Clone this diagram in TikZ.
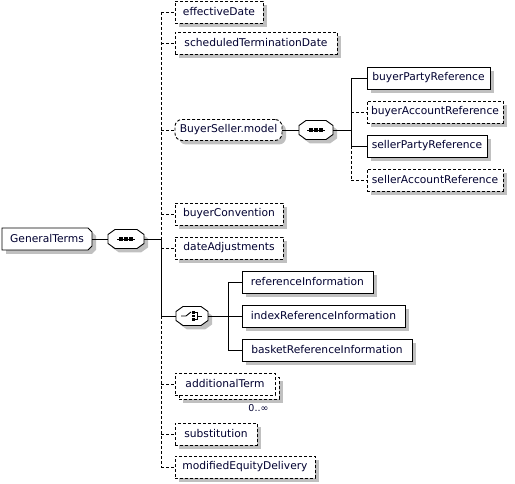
\documentclass[tikz,border=0pt]{standalone}
\usepackage{fontspec}
\setmainfont{DejaVu Sans}
\usetikzlibrary{backgrounds}
\definecolor{txt}{RGB}{0,0,48}
\definecolor{shd}{RGB}{192,192,192}
\begin{document}
\begin{tikzpicture}[x=1pt,y=-1pt,
  every node/.style={font=\fontsize{10.7}{12}\selectfont, text=txt},
  elem/.style={draw, line width=0.9pt, fill=white, minimum height=22pt, inner xsep=4pt, inner ysep=0pt, outer sep=0pt, anchor=west},
  optl/.style={dash pattern=on 3pt off 2pt},
  comp/.style={rectangle, minimum height=19pt, inner sep=0pt, outer sep=0pt, anchor=west},
  conn/.style={line width=0.9pt},
  shadowfill/.style={fill=shd, draw=none},
  outline/.style={draw, line width=0.9pt, fill=white},
]
\useasboundingbox (0,0) rectangle (515,484);

% root
\node[comp, minimum height=22pt, minimum width=90pt] (gt) at (2,239) {GeneralTerms};
\node[comp, minimum width=36pt] (s1) at (108,239) {};
\coordinate (t1) at (161,239);

% children of GeneralTerms
\node[elem, optl, minimum width=88pt] (ed) at (175,12) {effectiveDate};
\node[elem, optl, minimum width=162pt] (sd) at (175,43) {scheduledTerminationDate};
\node[elem, optl, rounded corners=7pt, minimum width=107pt, minimum height=21pt] (bs) at (175,130) {BuyerSeller.model};
\node[elem, optl, minimum width=108pt] (bc) at (175,214) {buyerConvention};
\node[elem, optl, minimum width=108pt] (da) at (175,248) {dateAdjustments};
\node[comp, minimum width=32pt] (ch) at (176,316) {};
\node[elem, optl, minimum width=100pt] (atb) at (179,388) {};
\node[elem, optl, minimum width=100pt] (at) at (175,384) {additionalTerm};
\node[anchor=north east, font=\fontsize{9.5}{11}\selectfont] (mult) at ([xshift=-7pt,yshift=-2pt]atb.south east) {0..∞};
\node[elem, optl, minimum width=82pt] (su) at (175,434) {substitution};
\node[elem, optl, minimum width=140pt] (me) at (175,467) {modifiedEquityDelivery};

% BuyerSeller.model sequence
\node[comp, minimum width=34pt] (s2) at (299,130) {};
\coordinate (t2) at (351,130);
\node[elem, minimum width=123pt] (bp) at (367,78) {buyerPartyReference};
\node[elem, optl, minimum width=136pt] (ba) at (367,112) {buyerAccountReference};
\node[elem, minimum width=120pt] (sp) at (367,146) {sellerPartyReference};
\node[elem, optl, minimum width=136pt] (sa) at (367,180) {sellerAccountReference};

% choice
\coordinate (t3) at (228,316);
\node[elem, minimum width=131pt] (ri) at (242,282) {referenceInformation};
\node[elem, minimum width=163pt] (ii) at (242,316) {indexReferenceInformation};
\node[elem, minimum width=170pt] (bi) at (242,350) {basketReferenceInformation};

% shadows and outlines of root and compositors
\begin{scope}[on background layer]
  \foreach \n in {ed,sd,bc,da,atb,su,me,bp,ba,sp,sa,ri,ii,bi}
    \fill[shadowfill] ([shift={(4pt,-4pt)}]\n.south west) rectangle ([shift={(4pt,-4pt)}]\n.north east);
  \fill[shadowfill, rounded corners=7pt] ([shift={(4pt,-4pt)}]bs.south west) rectangle ([shift={(4pt,-4pt)}]bs.north east);
  \fill[shadowfill] ([shift={(4pt,-4pt)}]gt.north west) -- ([shift={(0pt,-4pt)}]gt.north east) -- ([shift={(4pt,-8pt)}]gt.north east)
     -- ([shift={(4pt,0pt)}]gt.south east) -- ([shift={(0pt,-4pt)}]gt.south east) -- ([shift={(4pt,-4pt)}]gt.south west) -- cycle;
  \foreach \s in {s1,s2,ch}
    \fill[shadowfill] ([shift={(11pt,-4pt)}]\s.north west) -- ([shift={(-3pt,-4pt)}]\s.north east) -- ([shift={(4pt,-9pt)}]\s.north east)
      -- ([shift={(4pt,1pt)}]\s.south east) -- ([shift={(-3pt,-4pt)}]\s.south east) -- ([shift={(11pt,-4pt)}]\s.south west)
      -- ([shift={(4pt,1pt)}]\s.south west) -- ([shift={(4pt,-9pt)}]\s.north west) -- cycle;
  \draw[outline] (gt.north west) -- ([xshift=-4pt]gt.north east) -- ([yshift=-4pt]gt.north east)
     -- ([yshift=4pt]gt.south east) -- ([xshift=-4pt]gt.south east) -- (gt.south west) -- cycle;
  \foreach \s in {s1,s2,ch}
    \draw[outline] ([xshift=7pt]\s.north west) -- ([xshift=-7pt]\s.north east) -- ([yshift=-5pt]\s.north east)
      -- ([yshift=5pt]\s.south east) -- ([xshift=-7pt]\s.south east) -- ([xshift=7pt]\s.south west)
      -- ([yshift=5pt]\s.south west) -- ([yshift=-5pt]\s.north west) -- cycle;
\end{scope}

% sequence symbols
\foreach \s in {s1,s2}{
  \draw[line width=0.9pt] ([xshift=-9pt]\s.center) -- ([xshift=9pt]\s.center);
  \foreach \dx in {-5,0,5}
    \fill ([xshift=\dx pt-1.7pt,yshift=-1.7pt]\s.center) rectangle ([xshift=\dx pt+1.7pt,yshift=1.7pt]\s.center);
}
% choice symbol
\draw[line width=0.9pt] ([xshift=-11pt]ch.center) -- ([xshift=-6pt]ch.center) -- ([xshift=-1pt,yshift=4pt]ch.center);
\foreach \dy in {-3.5,0,3.5}
  \fill ([xshift=0pt,yshift=\dy pt-1.3pt]ch.center) rectangle ([xshift=2.6pt,yshift=\dy pt+1.3pt]ch.center);
\draw[line width=0.9pt] ([xshift=3pt,yshift=3.5pt]ch.center) -- ([xshift=5.5pt,yshift=3.5pt]ch.center) -- ([xshift=5.5pt,yshift=-3.5pt]ch.center) -- ([xshift=3pt,yshift=-3.5pt]ch.center);
\draw[line width=0.9pt] ([xshift=5.5pt]ch.center) -- ([xshift=10pt]ch.center);

% connectors: root
\draw[conn] (gt) -- (s1);
\draw[conn] (s1) -- (t1);
\draw[conn, optl] (ed.west -| t1) -- (t1);
\draw[conn] (t1) -- (ch.west -| t1);
\draw[conn, optl] (ch.west -| t1) -- (me.west -| t1);
\foreach \c in {ed,sd,bs,bc,da,at,su,me}
  \draw[conn, optl] (\c.west -| t1) -- (\c.west);
\draw[conn] (ch.west -| t1) -- (ch.west);

% BuyerSeller.model
\draw[conn] (bs) -- (s2);
\draw[conn] (s2) -- (t2);
\draw[conn] (bp.west -| t2) -- (sp.west -| t2);
\draw[conn, optl] (sp.west -| t2) -- (sa.west -| t2);
\draw[conn] (bp.west -| t2) -- (bp.west);
\draw[conn] (sp.west -| t2) -- (sp.west);
\draw[conn, optl] (ba.west -| t2) -- (ba.west);
\draw[conn, optl] (sa.west -| t2) -- (sa.west);

% choice
\draw[conn] (ch) -- (t3);
\draw[conn] (ri.west -| t3) -- (bi.west -| t3);
\foreach \c in {ri,ii,bi}
  \draw[conn] (\c.west -| t3) -- (\c.west);
\end{tikzpicture}
\end{document}
